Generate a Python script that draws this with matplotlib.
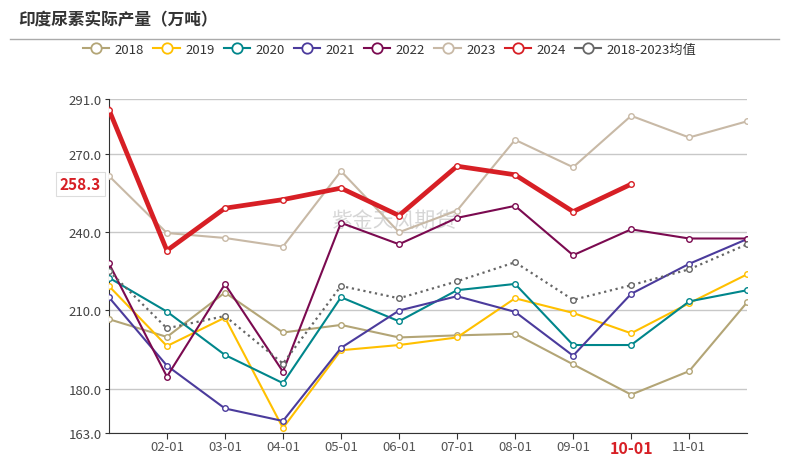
import matplotlib.pyplot as plt
from matplotlib.lines import Line2D
from matplotlib.transforms import blended_transform_factory

plt.rcParams["font.family"] = ["Noto Sans CJK SC", "DejaVu Sans"]

months = ["01-01", "02-01", "03-01", "04-01", "05-01", "06-01",
          "07-01", "08-01", "09-01", "10-01", "11-01", "12-01"]

y2018 = [206.6, 199.8, 216.8, 201.5, 204.4, 199.6, 200.4, 201.0, 189.3, 177.7, 186.7, 213.1]
y2019 = [219.3, 196.3, 207.2, 164.9, 194.7, 196.7, 199.6, 214.6, 209.0, 201.2, 212.7, 223.8]
y2020 = [222.5, 209.5, 192.9, 182.1, 215.0, 205.8, 217.7, 220.1, 196.7, 196.7, 213.4, 217.7]
y2021 = [215.0, 188.8, 172.4, 167.6, 195.6, 209.9, 215.4, 209.4, 192.6, 216.3, 227.8, 237.3]
y2022 = [228.0, 184.6, 220.0, 186.5, 243.5, 235.3, 245.4, 250.0, 231.1, 241.0, 237.5, 237.5]
y2023 = [261.5, 239.6, 237.7, 234.4, 263.3, 239.9, 248.2, 275.3, 264.8, 284.5, 276.2, 282.4]
y2024 = [286.9, 232.9, 249.1, 252.4, 256.8, 246.3, 265.2, 261.9, 247.8, 258.3]
y_avg = [225.1, 203.1, 207.8, 189.6, 219.3, 214.6, 221.1, 228.4, 214.0, 219.6, 225.7, 235.3]

yticks = [163, 180, 210, 240, 270, 291]
last_label = "258.3"

series = [
    ("2018", y2018, "#b3a576", "-", 1.5),
    ("2019", y2019, "#ffc000", "-", 1.5),
    ("2020", y2020, "#00868b", "-", 1.5),
    ("2021", y2021, "#4b3b9c", "-", 1.5),
    ("2022", y2022, "#7b0a50", "-", 1.5),
    ("2023", y2023, "#c8b9a6", "-", 1.5),
    ("2024", y2024, "#d71f25", "-", 3.4),
    ("2018-2023均值", y_avg, "#666666", ":", 1.6),
]

fig = plt.figure(figsize=(7.89, 4.60), dpi=100)
ax = fig.add_axes([0.138, 0.0565, 0.809, 0.7265])

# watermark
ax.text(0.447, 0.638, "紫金天风期货", transform=ax.transAxes, fontsize=15,
        color="#cccccc", alpha=0.8, ha="center", va="center", zorder=1)

for name, values, color, style, lw in series:
    ax.plot(range(len(values)), values, color=color, linestyle=style, linewidth=lw,
            marker="o", markersize=4, markerfacecolor="white", markeredgecolor=color,
            markeredgewidth=1.0, zorder=5 if name == "2024" else 3)

ax.set_xlim(0, 11)
ax.set_ylim(163, 291)
ax.set_yticks(yticks)
ax.set_yticklabels([f"{v:.1f}" for v in yticks], fontsize=9.5, color="#444444")
ax.set_xticks(range(1, 11))
ax.set_xticklabels(months[1:11], fontsize=9.5, color="#555555")
for lab in ax.get_xticklabels():
    if lab.get_text() == "10-01":
        lab.set_color("#d71f25")
        lab.set_fontweight("bold")
        lab.set_fontsize(11.5)
ax.tick_params(axis="x", length=4, color="#333333", pad=1)
ax.tick_params(axis="y", length=3, color="#333333", pad=2)
ax.grid(axis="y", color="#c8c8c8", linewidth=1.0)
ax.set_axisbelow(True)
for side in ["top", "right"]:
    ax.spines[side].set_visible(False)
ax.spines["left"].set_color("#333333")
ax.spines["bottom"].set_color("#333333")

# last value label on the y axis
trans = blended_transform_factory(ax.transAxes, ax.transData)
ax.text(-0.012, y2024[-1], last_label, transform=trans, ha="right", va="center",
        fontsize=11, fontweight="bold", color="#d71f25",
        bbox=dict(boxstyle="square,pad=0.25", facecolor="white", edgecolor="#dddddd", linewidth=0.8))

fig.text(0.023, 0.955, "印度尿素实际产量（万吨）", fontsize=12, fontweight="bold",
         color="#333333", ha="left", va="center")
fig.add_artist(Line2D([0.013, 0.987], [0.913, 0.913], transform=fig.transFigure,
                      color="#aaaaaa", linewidth=1.0))

handles = [Line2D([], [], color=c, linestyle="-", linewidth=1.5, marker="o", markersize=7.5,
                  markerfacecolor="white", markeredgecolor=c, markeredgewidth=1.3)
           for _, _, c, _, _ in series]
fig.legend(handles, [s[0] for s in series], loc="center", bbox_to_anchor=(0.494, 0.891),
           ncol=8, frameon=False, fontsize=9.5, handlelength=2.0, handletextpad=0.4,
           columnspacing=0.7, labelcolor="#333333")

fig.savefig("out.png", dpi=100)
